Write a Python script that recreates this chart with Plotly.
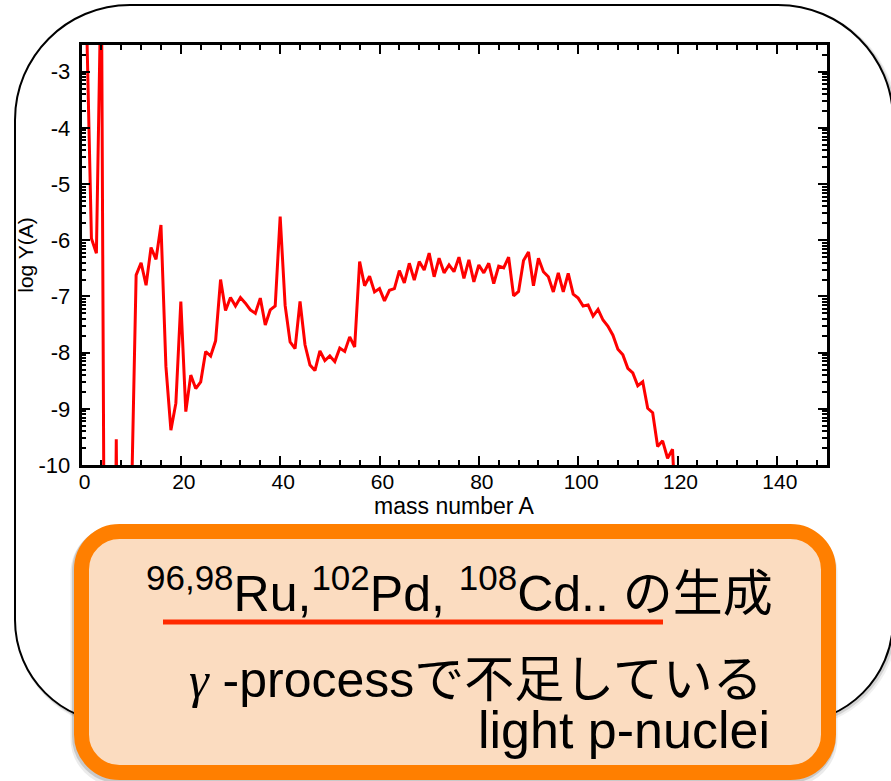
import numpy as np
import plotly.graph_objects as go

W, H = 891, 781

# mass number A and log10 abundance Y(A)
mass_number = list(range(1, 121))
log_abundance = [
    -2.0, -5.97, -6.23, -1.0, -20.0, -20.0, -9.54, -20.0, -14.0, -10.9,    # 1-10
    -6.62, -6.40, -6.80, -6.13, -6.34, -5.73, -8.25, -9.38, -8.90, -7.09,   # 11-20
    -9.05, -8.40, -8.64, -8.52, -7.98, -8.06, -7.79, -6.70, -7.25, -7.02,   # 21-30
    -7.17, -7.02, -7.12, -7.24, -7.30, -7.03, -7.51, -7.24, -7.17, -5.58,   # 31-40
    -7.16, -7.81, -7.93, -7.09, -7.86, -8.22, -8.32, -7.97, -8.14, -8.06,   # 41-50
    -8.16, -7.92, -7.98, -7.72, -7.90, -6.38, -6.81, -6.64, -6.92, -6.86,   # 51-60
    -7.08, -6.89, -6.86, -6.54, -6.76, -6.41, -6.71, -6.38, -6.53, -6.23,   # 61-70
    -6.65, -6.32, -6.58, -6.44, -6.56, -6.30, -6.68, -6.35, -6.74, -6.44,   # 71-80
    -6.58, -6.41, -6.77, -6.46, -6.49, -6.30, -6.99, -6.91, -6.36, -6.21,   # 81-90
    -6.81, -6.32, -6.56, -6.65, -6.92, -6.58, -6.92, -6.59, -6.96, -7.03,   # 91-100
    -7.17, -7.15, -7.35, -7.23, -7.42, -7.53, -7.69, -7.94, -8.04, -8.28,   # 101-110
    -8.36, -8.59, -8.52, -8.99, -9.07, -9.67, -9.57, -9.88, -9.72, -11.5,   # 111-120
]

x_major = [0, 20, 40, 60, 80, 100, 120, 140]
y_major = [-10, -9, -8, -7, -6, -5, -4, -3]
y_major_text = ["-10", "-9", "-8", "-7", "-6", "-5", "-4", "-3"]
# logarithmic-style minor ticks between decades
y_minor = [k + np.log10(m) for k in range(-11, -2) for m in range(2, 10)]
y_minor = [v for v in y_minor if -10 < v < -2.52]

line1 = "<sup>96,98</sup>Ru,<sup>102</sup>Pd, <sup>108</sup>Cd.. の生成"
line2 = "<span style='font-family:Liberation Serif'><i>γ</i></span> -processで不足している"
line3 = "light p-nuclei"


def px(x, y):
    return x / W, 1 - y / H


K = 0.5523


def fmt(pts):
    return " ".join(f"{a:.5f},{b:.5f}" for a, b in (px(*p) for p in pts))


def rounded_rect(x0, y0, x1, y1, r):
    k = r * K
    s = f"M {fmt([(x0 + r, y0)])} L {fmt([(x1 - r, y0)])} "
    s += f"C {fmt([(x1 - r + k, y0), (x1, y0 + r - k), (x1, y0 + r)])} "
    s += f"L {fmt([(x1, y1 - r)])} "
    s += f"C {fmt([(x1, y1 - r + k), (x1 - r + k, y1), (x1 - r, y1)])} "
    s += f"L {fmt([(x0 + r, y1)])} "
    s += f"C {fmt([(x0 + r - k, y1), (x0, y1 - r + k), (x0, y1 - r)])} "
    s += f"L {fmt([(x0, y0 + r)])} "
    s += f"C {fmt([(x0, y0 + r - k), (x0 + r - k, y0), (x0 + r, y0)])} Z"
    return s


def bubble(dx=0.0, dy=0.0):
    L, R, T, B = 15 + dx, 893 + dx, 5 + dy, 723 + dy
    rt, rb = 115, 103
    kt, kb = rt * K, rb * K
    tail_y = 293 + dy
    s = f"M {fmt([(L, tail_y)])} L {fmt([(L, B - rb)])} "
    s += f"C {fmt([(L, B - rb + kb), (L + rb - kb, B), (L + rb, B)])} "
    s += f"L {fmt([(R - rb, B)])} "
    s += f"C {fmt([(R - rb + kb, B), (R, B - rb + kb), (R, B - rb)])} "
    s += f"L {fmt([(R, T + rt)])} "
    s += f"C {fmt([(R, T + rt - kt), (R - rt + kt, T), (R - rt, T)])} "
    s += f"L {fmt([(L + rt, T)])} "
    s += f"C {fmt([(L + rt - kt, T), (L, T + rt - kt), (L, T + rt)])} "
    s += f"L {fmt([(L, 125 + dy), (-343 + dx, tail_y)])} Z"
    return s


fig = go.Figure()
fig.add_trace(go.Scatter(
    x=mass_number, y=log_abundance, mode="lines",
    line=dict(color="#ff0000", width=3), hoverinfo="skip", showlegend=False,
))

shapes = []
# speech bubble with a soft shadow
for off, col, wd in [(2.5, "rgba(0,0,0,0.06)", 5), (1.5, "rgba(0,0,0,0.12)", 3)]:
    shapes.append(dict(type="path", path=bubble(off, off), xref="paper", yref="paper",
                       line=dict(color=col, width=wd), fillcolor="rgba(0,0,0,0)", layer="below"))
shapes.append(dict(type="path", path=bubble(), xref="paper", yref="paper",
                   line=dict(color="#000000", width=2), fillcolor="#ffffff", layer="below"))

# highlighted note box
for off, col, wd in [(4, "rgba(0,0,0,0.08)", 20), (2, "rgba(0,0,0,0.14)", 17)]:
    shapes.append(dict(type="path", path=rounded_rect(81.5 - 1, 531.5 + off, 828.5 - 1, 772.5 + off, 38),
                       xref="paper", yref="paper", line=dict(color=col, width=wd),
                       fillcolor="rgba(0,0,0,0)", layer="above"))
shapes.append(dict(type="path", path=rounded_rect(81.5, 531.5, 828.5, 772.5, 38),
                   xref="paper", yref="paper", line=dict(color="#ff7f00", width=15),
                   fillcolor="#fbdcc0", layer="above"))
# underline beneath the nuclide list
ux0, uy = px(163, 622)
ux1, _ = px(663, 622)
shapes.append(dict(type="line", x0=ux0, x1=ux1, y0=uy, y1=uy, xref="paper", yref="paper",
                   line=dict(color="#ff2a00", width=5), layer="above"))

font_main = "Liberation Sans, Arial, Noto Sans CJK JP, sans-serif"
annotations = []
for text, xr, yc, size in [(line1, 775, 590, 50), (line2, 765, 680, 50), (line3, 772, 730, 52)]:
    ax, ay = px(xr, yc)
    annotations.append(dict(text=text, x=ax, y=ay, xref="paper", yref="paper",
                            xanchor="right", yanchor="middle", showarrow=False,
                            font=dict(family=font_main, size=size, color="#000000")))

x0d, _ = px(81.5, 0)
x1d, _ = px(826.5, 0)
_, y0d = px(0, 465)
_, y1d = px(0, 45)

fam = "Liberation Sans, Arial, sans-serif"
fig.update_layout(
    width=W, height=H, margin=dict(l=0, r=0, t=0, b=0, autoexpand=False),
    paper_bgcolor="#ffffff", plot_bgcolor="rgba(0,0,0,0)",
    shapes=shapes, annotations=annotations, showlegend=False,
    xaxis=dict(domain=[x0d, x1d], range=[0, 150], tickmode="array", tickvals=x_major,
               automargin=False, ticklabelshift=3, ticklabelstandoff=-4,
               ticks="inside", ticklen=9, tickwidth=2, tickcolor="#000",
               showline=True, linecolor="#000", linewidth=2.5, mirror="allticks",
               showgrid=False, zeroline=False, tickfont=dict(family=fam, size=21, color="#000"),
               minor=dict(tickmode="linear", tick0=0, dtick=4, ticks="inside", ticklen=5,
                          tickwidth=2, tickcolor="#000", showgrid=False),
               title=dict(text="mass number A", font=dict(family=fam, size=23, color="#000"),
                          standoff=0)),
    yaxis=dict(domain=[y0d, y1d], range=[-10, -2.525], tickmode="array", tickvals=y_major,
               automargin=False, ticklabelstandoff=4,
               ticktext=y_major_text, ticks="inside", ticklen=9, tickwidth=2, tickcolor="#000",
               showline=True, linecolor="#000", linewidth=2.5, mirror="allticks",
               showgrid=False, zeroline=False, tickfont=dict(family=fam, size=22, color="#000"),
               minor=dict(tickmode="array", tickvals=y_minor, ticks="inside", ticklen=5,
                          tickwidth=1.5, tickcolor="#000", showgrid=False),
               title=dict(text="log Y(A)", font=dict(family=fam, size=21, color="#000"),
                          standoff=0)),
)

fig.write_html("out.html")
